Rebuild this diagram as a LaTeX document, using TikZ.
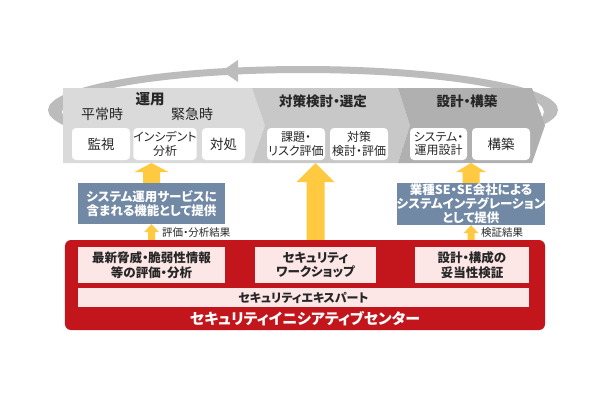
\documentclass[tikz,border=0pt]{standalone}
\usepackage{fontspec}
\setmainfont{Noto Sans CJK JP}[RawFeature=+palt]
\usetikzlibrary{calc}
\definecolor{segA}{HTML}{DADADA}
\definecolor{segB}{HTML}{C8C8C8}
\definecolor{segC}{HTML}{B0B0B0}
\definecolor{ringc}{HTML}{BCBCBC}
\definecolor{slate}{HTML}{7189A5}
\definecolor{arrowyel}{HTML}{FFC940}
\definecolor{redc}{RGB}{195,22,28}
\definecolor{pinkc}{HTML}{FCE6E6}
\definecolor{txt}{HTML}{262626}
\newcommand\fsz[2]{\fontsize{#1bp}{#2bp}\selectfont}
% block arrow pointing up: tail #1, tip #2, shaft half width #3, head half width #4, head length #5
\newcommand\upblock[5]{\path[fill=arrowyel] let \p1=(#1), \p2=(#2) in
  (\x1-#3,\y1) -- (\x1-#3,\y2-#5) -- (\x1-#4,\y2-#5) -- (\x1,\y2) --
  (\x1+#4,\y2-#5) -- (\x1+#3,\y2-#5) -- (\x1+#3,\y1) -- cycle;}
\begin{document}
\begin{tikzpicture}[x=1bp,y=-1bp,
  wbox/.style={fill=white, rounded corners=4bp, inner sep=0pt, align=center, text=txt,
    minimum height=32bp, font=\fsz{12}{13.5}},
  wbig/.style={wbox, font=\fsz{13.5}{15}},
  headtxt/.style={inner sep=0pt, text=txt, font=\bfseries\fsz{13.5}{15}},
  subtxt/.style={inner sep=0pt, text=txt, font=\fsz{14}{15}},
  bluebox/.style={fill=slate, inner sep=0pt, align=center, text=white, font=\bfseries\fsz{12.5}{14}},
  pinkbox/.style={fill=pinkc, inner sep=0pt, align=center, text=txt, font=\bfseries\fsz{12.5}{14.5}},
  lbl/.style={inner sep=0pt, text=txt, font=\fsz{10.5}{12}, anchor=west},
]
\useasboundingbox[fill=white] (0,0) rectangle (610,400);

% loop ring
\fill[ringc, even odd rule] (303,110) ellipse [x radius=255, y radius=44]
  (303,112) ellipse [x radius=241, y radius=39];
\fill[ringc] (222,71) -- (238,60) -- (238,82) -- cycle;

% chevron band
\fill[segA] (63,88) -- (252,88) -- (265,125.5) -- (252,163) -- (63,163) -- cycle;
\fill[segB] (252,88) -- (398,88) -- (410,125.5) -- (398,163) -- (252,163) -- (265,125.5) -- cycle;
\fill[segC] (398,88) -- (532,88) -- (545,125.5) -- (532,163) -- (398,163) -- (410,125.5) -- cycle;
\coordinate (bandS) at (0,163);

% headings
\node[headtxt, font=\bfseries\fsz{14.5}{16}] (h1) at (150,99) {運用};
\node[headtxt] (h2) at (323,101) {対策検討・選定};
\node[headtxt] (h3) at (467,101) {設計・構築};
\node[subtxt] (s1) at (102,114) {平常時};
\node[subtxt] (s2) at (192,114) {緊急時};

% white boxes
\node[wbig, minimum width=58bp] (b1) at (101,144) {監視};
\node[wbox, minimum width=56bp] (b2) at (165,144) {インシデント\\分析};
\node[wbig, minimum width=43bp] (b3) at (223.5,144) {対処};
\node[wbox, minimum width=58bp] (b4) at (296,144) {課題・\\リスク評価};
\node[wbox, minimum width=58bp] (b5) at (359,144) {対策\\検討・評価};
\node[wbox, minimum width=57bp] (b6) at (438.5,144) {システム・\\運用設計};
\node[wbig, minimum width=58bp] (b7) at (501,144) {構築};

% blue boxes
\node[bluebox, minimum width=147bp, minimum height=41bp] (blueL) at (151.5,203.5)
  {システム運用サービスに\\含まれる機能として提供};
\node[bluebox, minimum width=148bp, minimum height=42bp] (blueR) at (471,204)
  {業種SE・SE会社による\\システムインテグレーション\\として提供};

% red panel
\node[fill=redc, rounded corners=6bp, minimum width=480bp, minimum height=90bp, inner sep=0pt]
  (red) at (305,285) {};
\node[pinkbox, minimum width=147bp, minimum height=36bp] (p1) at (151.5,265)
  {最新脅威・脆弱性情報\\等の評価・分析};
\node[pinkbox, minimum width=121bp, minimum height=36bp] (ws) at (315.5,265)
  {セキュリティ\\ワークショップ};
\node[pinkbox, minimum width=114bp, minimum height=36bp] (p3) at (472,265)
  {設計・構成の\\妥当性検証};
\node[pinkbox, minimum width=451bp, minimum height=19bp, font=\bfseries\fsz{12}{13}] (exp) at (303.5,297.5)
  {セキュリティエキスパート};
\node[inner sep=0pt, text=white, font=\bfseries\fsz{15}{16}] (title) at (305,319)
  {セキュリティイニシアティブセンター};

% yellow arrows
\upblock{ws.north |- red.north}{ws.north |- bandS}{9bp}{19bp}{19bp}
\upblock{blueL.north}{blueL.north |- bandS}{8.5bp}{17bp}{9bp}
\upblock{blueR.north}{blueR.north |- bandS}{8.5bp}{15bp}{9bp}
\upblock{blueL.south |- red.north}{blueL.south}{3.5bp}{7.5bp}{8bp}
\upblock{blueR.south |- red.north}{blueR.south}{3.5bp}{7.5bp}{8bp}

% labels
\node[lbl] (l1) at (162,233) {評価・分析結果};
\node[lbl] (l2) at (481,233) {検証結果};
\end{tikzpicture}
\end{document}
